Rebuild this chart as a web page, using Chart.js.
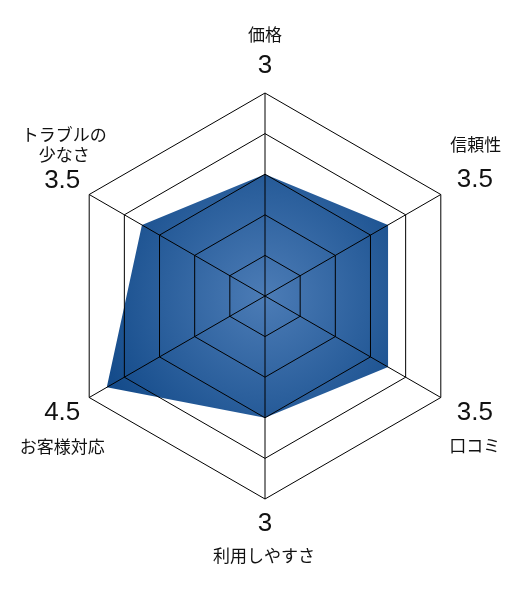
<!DOCTYPE html>
<html>
<head>
<meta charset="utf-8">
<script src="https://cdn.jsdelivr.net/npm/chart.js@4/dist/chart.umd.min.js"></script>
<style>
html,body{margin:0;padding:0;background:#fff;}
#wrap{width:520px;height:597px;position:relative;}
</style>
</head>
<body>
<div id="wrap"><canvas id="c" width="520" height="597"></canvas></div>
<script>
const categories = [["価格"], ["信頼性"], ["口コミ"], ["利用しやすさ"], ["お客様対応"], ["トラブルの", "少なさ"]];
const values = [3, 3.5, 3.5, 3, 4.5, 3.5];
const valueLabels = ["3", "3.5", "3.5", "3", "4.5", "3.5"];
const scaleMax = 5;

// label layout per axis: offsets from vertex (px)
const labelLayout = [
  {nameDy: -58, valDy: -27, dx: 0, nameDx: 0},
  {nameDy: -50, valDy: -15, dx: 34, nameDx: 1},
  {nameDy: 48, valDy: 15, dx: 34, nameDx: 0},
  {nameDy: 57, valDy: 25, dx: 0, nameDx: -1},
  {nameDy: 49, valDy: 15, dx: -27, nameDx: 0},
  {nameDy: -40, valDy: -14, dx: -27, nameDx: 2}
];

const labelPlugin = {
  id: 'twoSizeLabels',
  afterDraw(chart) {
    const scale = chart.scales.r;
    const ctx = chart.ctx;
    ctx.save();
    ctx.textAlign = 'center';
    ctx.textBaseline = 'middle';
    ctx.fillStyle = '#111';
    categories.forEach((lines, i) => {
      const p = scale.getPointPosition(i, scale.drawingArea);
      const L = labelLayout[i];
      ctx.font = '26px "Liberation Sans", Arial, sans-serif';
      ctx.fillText(valueLabels[i], p.x + L.dx, p.y + L.valDy);
      ctx.font = '17px "Noto Sans CJK JP", sans-serif';
      const lh = 20;
      const n = lines.length;
      lines.forEach((t, k) => {
        const y = p.y + L.nameDy - (n - 1 - k) * lh;
        ctx.fillText(t, p.x + L.dx + L.nameDx, y);
      });
    });
    ctx.restore();
  }
};

new Chart(document.getElementById('c'), {
  type: 'radar',
  data: {
    labels: categories.map(l => l.join('')),
    datasets: [{
      data: values,
      borderWidth: 0,
      pointRadius: 0,
      pointHoverRadius: 0,
      fill: true,
      backgroundColor: (ctx) => {
        const chart = ctx.chart;
        const s = chart.scales.r;
        if (!s || !s.drawingArea) return '#1a4f8e';
        const g = chart.ctx.createRadialGradient(s.xCenter, s.yCenter, 0, s.xCenter, s.yCenter, s.drawingArea * 0.85);
        g.addColorStop(0, '#4c7cb6');
        g.addColorStop(1, '#154c8b');
        return g;
      }
    }]
  },
  options: {
    responsive: false,
    animation: false,
    layout: {padding: {left: 62, right: 52, top: 93, bottom: 98}},
    plugins: {legend: {display: false}, tooltip: {enabled: false}},
    elements: {line: {tension: 0}},
    scales: {
      r: {
        min: 0,
        max: scaleMax,
        ticks: {display: false, stepSize: 1},
        grid: {color: '#000', lineWidth: 1, z: 1},
        angleLines: {color: '#000', lineWidth: 1},
        pointLabels: {display: false}
      }
    }
  },
  plugins: [labelPlugin]
});
</script>
</body>
</html>
